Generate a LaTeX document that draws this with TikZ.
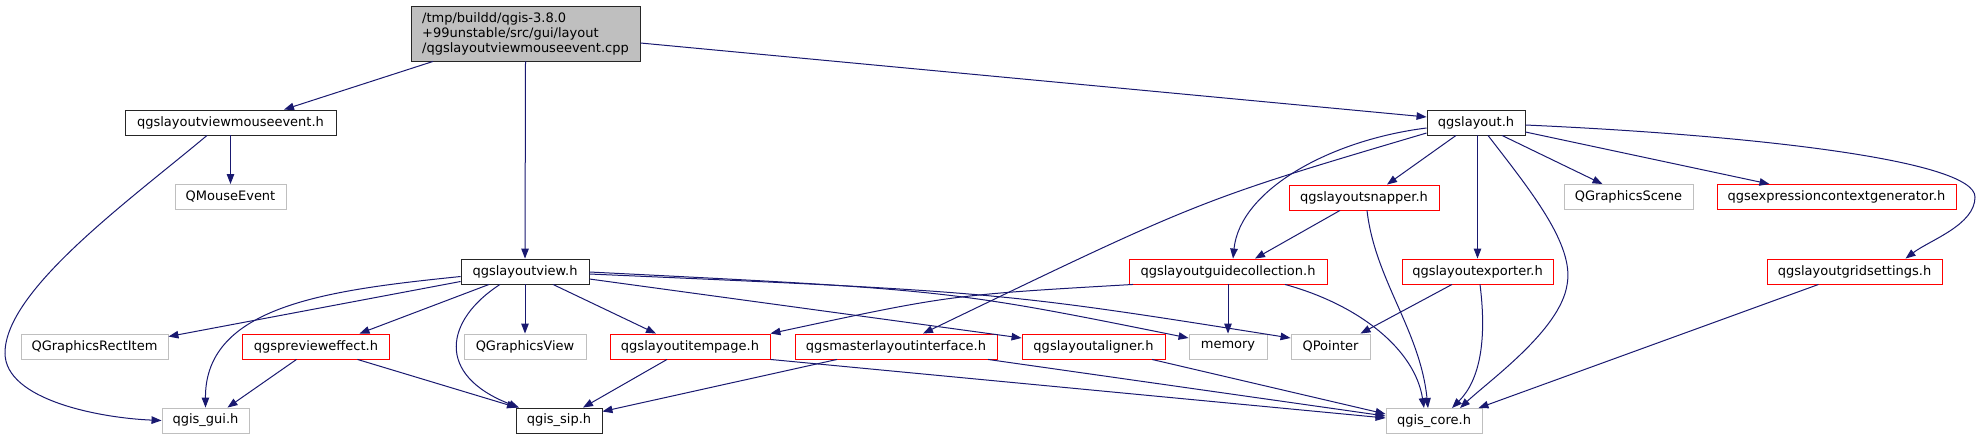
\documentclass[tikz,border=0pt]{standalone}
\usepackage{fontspec}
\setmainfont{DejaVu Sans}
\usetikzlibrary{arrows.meta}
\definecolor{edgeblue}{RGB}{25,25,112}
\definecolor{boxgray}{RGB}{191,191,191}
\tikzset{
  file/.style={draw, line width=0.9pt, inner sep=0pt, minimum height=25pt,
    font=\fontsize{13}{15}\selectfont},
  docfile/.style={file, draw=black!85},
  redfile/.style={file, draw=red},
  extfile/.style={file, draw=boxgray},
  dep/.style={color=edgeblue, line width=1pt, -{Triangle[length=10pt,width=7.5pt]}}
}
\begin{document}
\begin{tikzpicture}[x=1pt, y=-1pt]
  % same size as the graph image
  \path[use as bounding box] (0,0) rectangle (1981,440);

  \node[docfile, fill=boxgray, minimum width=229pt, minimum height=55pt, align=left] (root) at (525.5,33.5)
    {/tmp/buildd/qgis-3.8.0\\+99unstable/src/gui/layout\\/qgslayoutviewmouseevent.cpp};
  \node[docfile, minimum width=211pt] (mev) at (230.5,122.5) {qgslayoutviewmouseevent.h};
  \node[extfile, minimum width=111pt] (qmouse) at (230.5,197) {QMouseEvent};
  \node[docfile, minimum width=128pt] (view) at (525,271.5) {qgslayoutview.h};
  \node[extfile, minimum width=147pt] (rectitem) at (94.5,346.5) {QGraphicsRectItem};
  \node[redfile, minimum width=147pt] (preview) at (316,346.5) {qgsprevieweffect.h};
  \node[extfile, minimum width=122pt] (gview) at (525,346.5) {QGraphicsView};
  \node[redfile, minimum width=160pt] (itempage) at (690,346.5) {qgslayoutitempage.h};
  \node[redfile, minimum width=202pt] (master) at (896,346.5) {qgsmasterlayoutinterface.h};
  \node[redfile, minimum width=143pt] (aligner) at (1093.5,346.5) {qgslayoutaligner.h};
  \node[extfile, minimum width=78pt] (memory) at (1228,346.5) {memory};
  \node[extfile, minimum width=79pt] (qpointer) at (1330.5,346.5) {QPointer};
  \node[extfile, minimum width=87pt] (gui) at (205.5,420.5) {qgis\_gui.h};
  \node[docfile, minimum width=86pt] (sip) at (559,420.5) {qgis\_sip.h};
  \node[extfile, minimum width=96pt] (core) at (1434,421) {qgis\_core.h};
  \node[docfile, minimum width=98pt] (layout) at (1476,122.5) {qgslayout.h};
  \node[redfile, minimum width=150pt] (snapper) at (1364,197.5) {qgslayoutsnapper.h};
  \node[extfile, minimum width=129pt] (gscene) at (1628.5,197) {QGraphicsScene};
  \node[redfile, minimum width=239pt] (exprgen) at (1836.5,197) {qgsexpressioncontextgenerator.h};
  \node[redfile, minimum width=198pt] (guide) at (1228,271.5) {qgslayoutguidecollection.h};
  \node[redfile, minimum width=151pt] (exporter) at (1477.5,271.5) {qgslayoutexporter.h};
  \node[redfile, minimum width=175pt] (grid) at (1854.5,271.5) {qgslayoutgridsettings.h};

  % the .cpp file
  \draw[dep] ([xshift=-92.5pt]root.south) -- ([xshift=53.5pt]mev.north);
  \draw[dep] (root.south) -- (view.north);
  \draw[dep] ([yshift=-9.5pt]root.east) -- ([yshift=5.5pt]layout.west);

  % qgslayoutviewmouseevent.h
  \draw[dep] (mev.south) -- (qmouse.north);
  \draw[dep] ([xshift=-23.5pt]mev.south) .. controls (130,200) and (5,290) .. (5,353)
    .. controls (5,400) and (100,418) .. (gui.west);

  % qgslayoutview.h
  \draw[dep] ([yshift=-10pt]view.west) -- ([yshift=-3pt]rectitem.north east);
  \draw[dep] ([yshift=-5pt]view.west) .. controls (330,290) and (205,305) .. (gui.north);
  \draw[dep] ([xshift=-36pt]view.south) -- ([xshift=43.5pt]preview.north);
  \draw[dep] ([xshift=-25pt]view.south) .. controls (445,320) and (435,375) .. ([xshift=-40pt]sip.north);
  \draw[dep] (view.south) -- (gview.north);
  \draw[dep] ([xshift=28pt]view.south) -- ([xshift=-34pt]itempage.north);
  \draw[dep] ([yshift=-7.5pt]view.east) -- ([yshift=8.5pt]aligner.west);
  \draw[dep] ([yshift=-0.5pt]view.east) .. controls (950,290) .. ([yshift=8.5pt]memory.west);
  \draw[dep] ([yshift=-2.5pt]view.east) .. controls (1000,292) .. ([yshift=8.5pt]qpointer.west);

  % second row down to qgis_gui.h / qgis_sip.h / qgis_core.h
  \draw[dep] ([xshift=-19.5pt]preview.south) -- ([xshift=22pt]gui.north);
  \draw[dep] ([xshift=41.5pt]preview.south) -- ([xshift=-42pt]sip.north);
  \draw[dep] ([xshift=-23pt]itempage.south) -- ([xshift=24pt]sip.north);
  \draw[dep] (itempage.south east) -- ([yshift=3pt]core.west);
  \draw[dep] ([xshift=-59pt]master.south) -- ([yshift=9pt]sip.east);
  \draw[dep] ([xshift=92pt]master.south) -- ([yshift=5pt]core.west);
  \draw[dep] ([xshift=58.5pt]aligner.south) -- ([yshift=7pt]core.west);

  % qgslayout.h
  \draw[dep] ([xshift=-20pt]layout.south) -- ([xshift=23pt]snapper.north);
  \draw[dep] ([xshift=26pt]layout.south) -- ([xshift=-26pt]gscene.north);
  \draw[dep] ([yshift=-9.5pt]layout.east) -- ([xshift=-67pt]exprgen.north);
  \draw[dep] (layout.south -| exporter.north) -- (exporter.north);
  \draw[dep] ([yshift=-5.5pt]layout.west) .. controls (1330,140) and (1240,190) .. ([xshift=5pt]guide.north);
  \draw[dep] ([yshift=-10.5pt]layout.west) .. controls (1200,200) .. ([xshift=27pt]master.north);
  \draw[dep] ([xshift=12pt]layout.south) .. controls (1530,190) and (1575,245) .. (1567,285)
    .. controls (1560,330) and (1490,380) .. ([xshift=26pt]core.north);
  \draw[dep] ([yshift=-2.5pt]layout.east) .. controls (1750,135) and (1975,160) .. (1975,197)
    .. controls (1975,225) and (1930,240) .. ([xshift=51pt]grid.north);

  % third row
  \draw[dep] ([xshift=-24pt]snapper.south) -- ([xshift=27pt]guide.north);
  \draw[dep] ([xshift=3pt]snapper.south) .. controls (1375,280) and (1420,330) .. ([xshift=-6pt]core.north);
  \draw[dep] ([xshift=-95pt]guide.south) .. controls (950,295) .. (itempage.north east);
  \draw[dep] (guide.south) -- (memory.north);
  \draw[dep] ([xshift=57pt]guide.south) .. controls (1360,305) and (1415,350) .. ([xshift=-10pt]core.north);
  \draw[dep] ([xshift=-25.5pt]exporter.south) -- ([xshift=30pt]qpointer.north);
  \draw[dep] ([xshift=2.5pt]exporter.south) .. controls (1487,340) and (1480,380) .. ([xshift=18pt]core.north);
  \draw[dep] ([xshift=-36pt]grid.south) -- ([xshift=-4pt]core.north east);
\end{tikzpicture}
\end{document}
